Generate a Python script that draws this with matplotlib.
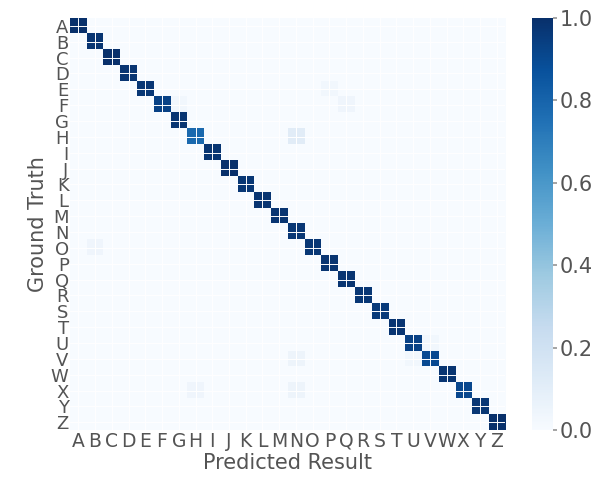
import numpy as np
import matplotlib
matplotlib.use("Agg")
import matplotlib.pyplot as plt
import seaborn as sns

labels = list("ABCDEFGHIJKLMNOPQRSTUVWXYZ")

# diagonal (correct) rates per letter
diag = [1.0, 0.98, 1.0, 0.98, 0.97, 0.93, 0.98, 0.78, 0.98, 1.0, 0.97, 0.98, 0.98,
        0.97, 0.97, 0.98, 0.98, 0.97, 0.96, 0.98, 0.93, 0.90, 0.98, 0.91, 0.97, 1.0]

# off-diagonal confusions: ground truth -> predicted
off_true = ["F", "E", "F", "H", "O", "V", "X", "X", "U", "V"]
off_pred = ["G", "P", "Q", "N", "B", "N", "H", "N", "V", "U"]
off_vals = [0.03, 0.03, 0.04, 0.11, 0.04, 0.05, 0.04, 0.05, 0.03, 0.03]

n = len(labels)
cm = np.diag(diag)
for t, p, v in zip(off_true, off_pred, off_vals):
    cm[labels.index(t), labels.index(p)] = v

sns.set_theme(style="darkgrid")
plt.rcParams["font.family"] = ["DejaVu Sans"]
txt = "0.33"

fig = plt.figure(figsize=(6.01, 4.84), dpi=100)
ax = fig.add_axes([0.1165, 0.111, 0.724, 0.852])
cax = fig.add_axes([0.885, 0.111, 0.035, 0.852])

im = ax.imshow(cm, cmap="Blues", vmin=0, vmax=1, aspect="auto")
ax.set_xticks(range(n))
ax.set_yticks(range(n))
ax.set_xticklabels(labels, fontsize=13.5, color=txt)
ax.set_yticklabels(labels, fontsize=13, color=txt)
ax.tick_params(axis="both", pad=1, length=0)
ax.grid(True, color="white", linewidth=0.7)
ax.set_xlabel("Predicted Result", fontsize=15, color=txt, labelpad=2)
ax.set_ylabel("Ground Truth", fontsize=15, color=txt, labelpad=2)
for s in ax.spines.values():
    s.set_visible(False)

cb = fig.colorbar(im, cax=cax)
cb.set_ticks([0.0, 0.2, 0.4, 0.6, 0.8, 1.0])
cb.ax.tick_params(labelsize=15, labelcolor=txt, length=3, color="0.6", pad=2)
cb.outline.set_visible(False)
cax.grid(False)

fig.savefig("out.png", dpi=100)
